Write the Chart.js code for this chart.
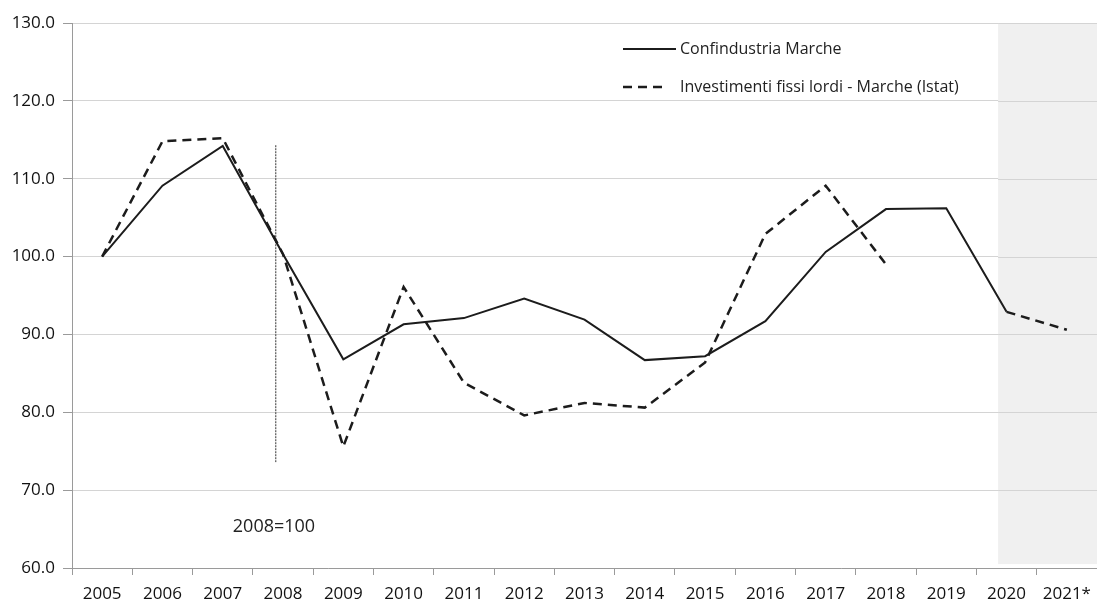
<!DOCTYPE html>
<html><head><meta charset="utf-8">
<script src="https://cdn.jsdelivr.net/npm/chart.js@4/dist/chart.umd.min.js"></script>
<style>html,body{margin:0;padding:0;background:#fff;}#wrap{width:1097px;height:604px;position:relative;}</style>
</head><body><div id="wrap"><canvas id="c" width="1097" height="604"></canvas></div>
<script>
const categories = ['2005','2006','2007','2008','2009','2010','2011','2012','2013','2014','2015','2016','2017','2018','2019','2020','2021*'];
const confindustria = [100.0,109.1,114.2,100.3,86.8,91.3,92.1,94.6,91.9,86.7,87.2,91.7,100.6,106.1,106.2,92.9,null];
const confindustriaForecast = [null,null,null,null,null,null,null,null,null,null,null,null,null,null,null,92.9,90.6];
const istat = [100.0,114.8,115.2,100.3,75.6,96.1,83.8,79.6,81.2,80.6,86.4,102.9,109.1,99.0,null,null,null];
const markerIndex = 2.88;          // vertical reference line, just left of 2008
const markerRange = [114.3, 73.6];
const shadeStartIndex = 14.86;     // forecast shading start (just left of 2020)
const yTicks = [60,70,80,90,100,110,120,130];
const legendLabels = ['Confindustria Marche','Investimenti fissi lordi - Marche (Istat)'];
const noteText = '2008=100';

const ink = '#1c1c1c';

const bgPlugin = {
  id:'shade',
  beforeDatasetsDraw(chart){
    const {ctx, chartArea:a, scales:{x2,y}} = chart;
    const x0 = x2.getPixelForValue(shadeStartIndex);
    ctx.save();
    ctx.fillStyle = '#f0f0f0';
    const top = y.getPixelForValue(130), bot = y.getPixelForValue(60.5);
    ctx.fillRect(x0, top, a.right - x0, bot - top);
    ctx.strokeStyle = '#d4d4d4'; ctx.lineWidth = 1;
    yTicks.forEach(v=>{ if(v===60) return; const py = Math.round(y.getPixelForValue(v))+0.5; ctx.beginPath(); ctx.moveTo(x0,py); ctx.lineTo(a.right,py); ctx.stroke(); });
    ctx.restore();
  },
  afterDatasetsDraw(chart){
    const {ctx, scales:{x2,y}} = chart;
    ctx.save();
    const lx = 623, tx = 680;
    const ly1 = 49, ly2 = 87;
    ctx.strokeStyle = ink;
    ctx.lineWidth = 2; ctx.setLineDash([]);
    ctx.beginPath(); ctx.moveTo(lx, ly1); ctx.lineTo(676, ly1); ctx.stroke();
    ctx.lineWidth = 2.5; ctx.setLineDash([9,6]);
    ctx.beginPath(); ctx.moveTo(lx, ly2); ctx.lineTo(665, ly2); ctx.stroke();
    ctx.setLineDash([]);
    ctx.fillStyle = '#222';
    ctx.font = '16px "Open Sans"';
    ctx.textBaseline = 'middle'; ctx.textAlign = 'left';
    ctx.fillText(legendLabels[0], tx, ly1);
    ctx.fillText(legendLabels[1], tx, ly2);
    ctx.font = '18px "Open Sans"';
    ctx.textAlign = 'center';
    ctx.fillText(noteText, x2.getPixelForValue(2.85), y.getPixelForValue(65.3));
    ctx.restore();
  }
};

new Chart(document.getElementById('c'), {
  type:'line',
  data:{
    labels: categories,
    datasets:[
      {label:legendLabels[0], data: confindustria, borderColor: ink, borderWidth:2, pointRadius:0, tension:0},
      {label:'forecast', data: confindustriaForecast, borderColor: ink, borderWidth:2.5, borderDash:[9,6], pointRadius:0, tension:0},
      {label:legendLabels[1], data: istat, borderColor: ink, borderWidth:2.5, borderDash:[9,6], pointRadius:0, tension:0},
      {label:'marker', xAxisID:'x2', data:[{x:markerIndex,y:markerRange[0]},{x:markerIndex,y:markerRange[1]}], borderColor:'#333', borderWidth:1, borderDash:[2,1], pointRadius:0}
    ]
  },
  options:{
    responsive:false, animation:false,
    layout:{padding:{top:23,right:0,left:0,bottom:0}},
    plugins:{legend:{display:false}, tooltip:{enabled:false}},
    scales:{
      x:{
        type:'category', offset:true,
        grid:{display:true, drawOnChartArea:false, drawTicks:true, tickLength:7, offset:true, color:'#9a9a9a'},
        border:{color:'#9a9a9a', width:1},
        ticks:{color:'#111', font:{family:'"Open Sans"', size:17}, padding:9, maxRotation:0, autoSkip:false},
        afterFit(s){ s.height = 36; s.paddingLeft = 0; s.paddingRight = 0; }
      },
      x2:{
        type:'linear', min:-0.5, max:16.5, display:false
      },
      y:{
        min:60, max:130,
        afterBuildTicks(s){ s.ticks = yTicks.map(v=>({value:v})); },
        grid:{color:'#d4d4d4', tickLength:9, tickColor:'#9a9a9a'},
        border:{color:'#9a9a9a', width:1},
        ticks:{color:'#111', font:{family:'"Open Sans"', size:17}, padding:8, callback:v=>Number(v).toFixed(1)},
        afterFit(s){ s.width = 72; s.paddingTop = 0; s.paddingBottom = 0; }
      }
    }
  },
  plugins:[bgPlugin]
});
</script></body></html>
